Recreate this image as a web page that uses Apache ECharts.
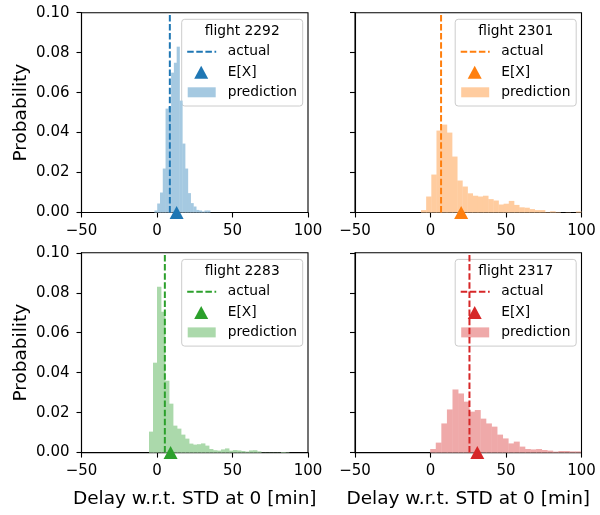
<!DOCTYPE html>
<html><head><meta charset="utf-8">
<script src="https://cdn.jsdelivr.net/npm/echarts@6/dist/echarts.min.js"></script>
<style>html,body{margin:0;padding:0;background:#fff}#c{width:600px;height:515px}</style>
</head><body><div id="c"></div>
<script>
// ---- data ----
const flights = ['flight 2292', 'flight 2301', 'flight 2283', 'flight 2317'];
const colors = ['#1f77b4', '#ff7f0e', '#2ca02c', '#d62728'];
const fills = ['#a5c9e1', '#ffcc9f', '#abd9ab', '#efa9a9'];
const actualDelay = [8.5, 7.0, 5.2, 25.8];
const expectedDelay = [13.0, 20.3, 9.0, 31.0];
const binStart = [-1.7, -6.3, -5.3, -0.2];
const binWidth = [1.84, 3.42, 2.65, 3.69];
const probBlue = [0.001, 0.0045, 0.010, 0.022, 0.052, 0.053, 0.070, 0.075, 0.083, 0.056, 0.0345, 0.022, 0.0097, 0.0047, 0.003, 0.0013, 0.001, 0.0005, 0.001, 0.001];
const probOrange = [0.0012, 0.008, 0.019, 0.041, 0.044, 0.040, 0.028, 0.016, 0.013, 0.0096, 0.0084, 0.008, 0.0084, 0.0067, 0.006, 0.004, 0.0044, 0.0058, 0.0038, 0.0026, 0.0024, 0.0017, 0.0012, 0.0012, 0.0002, 0.0006, 0.0002, 0, 0.0001, 0, 0.0005];
const probGreen = [0.0105, 0.045, 0.083, 0.0705, 0.036, 0.0245, 0.0135, 0.012, 0.009, 0.007, 0.0045, 0.004, 0.0042, 0.0046, 0.0035, 0.0018, 0.0012, 0.001, 0.0016, 0.0021, 0.001, 0.0013, 0.0011, 0.0008, 0.0005, 0.0011, 0.0012, 0.0006, 0.0001, 0.0001, 0.0001, 0.0001, 0.0001, 0.0003, 0.0002];
const probRed = [0.0018, 0.005, 0.0146, 0.0216, 0.0316, 0.0296, 0.0255, 0.0205, 0.0213, 0.017, 0.0146, 0.013, 0.009, 0.0071, 0.0046, 0.0055, 0.003, 0.0018, 0.0016, 0.0018, 0.0013, 0.001, 0.0005, 0.0008, 0.0008, 0.0006, 0.0006];
const probs = [probBlue, probOrange, probGreen, probRed];
const xTicks = [-50, 0, 50, 100];
const yTicks = [0, 0.02, 0.04, 0.06, 0.08, 0.10];
const xLabel = 'Delay w.r.t. STD at 0 [min]';
const yLabel = 'Probability';
const legendLabels = ['actual', 'E[X]', 'prediction'];

// ---- layout ----
const FONT = 'DejaVu Sans';
const gLeft = [81.5, 355, 81.5, 355];
const gTop = [12.7, 12.7, 252.8, 252.8];
const gW = 226.5, gH = 199.8;

const chart = echarts.init(document.getElementById('c'), null, {renderer: 'canvas'});
const grid = [], xAxis = [], yAxis = [], series = [], graphic = [];
for (let i = 0; i < 4; i++) {
  grid.push({left: gLeft[i], top: gTop[i], width: gW, height: gH, show: true, borderColor: '#000', borderWidth: 1.1, backgroundColor: 'transparent'});
  xAxis.push({
    type: 'value', gridIndex: i, min: xTicks[0], max: xTicks[xTicks.length - 1], interval: 50,
    axisLine: {onZero: false, lineStyle: {color: '#000', width: 1.1}},
    axisTick: {length: 5, lineStyle: {color: '#000', width: 1.1}},
    splitLine: {show: false},
    axisLabel: {color: '#000', fontFamily: FONT, fontSize: 15, margin: 11,
      formatter: v => v < 0 ? '\u2212' + Math.abs(v) : String(v)},
    name: i >= 2 ? xLabel : '', nameLocation: 'middle', nameGap: 37,
    nameTextStyle: {color: '#000', fontFamily: FONT, fontSize: 18.5}
  });
  yAxis.push({
    type: 'value', gridIndex: i, min: yTicks[0], max: yTicks[yTicks.length - 1], interval: 0.02,
    axisLine: {onZero: false, lineStyle: {color: '#000', width: 1.1}},
    axisTick: {length: 5, lineStyle: {color: '#000', width: 1.1}},
    splitLine: {show: false},
    axisLabel: {show: i % 2 === 0, color: '#000', fontFamily: FONT, fontSize: 15, margin: 12,
      formatter: v => v.toFixed(2)},
    name: i % 2 === 0 ? yLabel : '', nameLocation: 'middle', nameGap: 51,
    nameTextStyle: {color: '#000', fontFamily: FONT, fontSize: 18.5}
  });
  const bins = probs[i].map((p, k) => [binStart[i] + k * binWidth[i], binStart[i] + (k + 1) * binWidth[i], p]);
  const fill = fills[i];
  series.push({
    type: 'custom', xAxisIndex: i, yAxisIndex: i, data: bins, z: 1,
    encode: {x: [0, 1], y: 2},
    renderItem: (params, api) => {
      const p0 = api.coord([api.value(0), api.value(2)]);
      const p1 = api.coord([api.value(1), 0]);
      return {type: 'rect', shape: {x: p0[0], y: p0[1], width: p1[0] - p0[0] + 0.4, height: p1[1] - p0[1]}, style: {fill: fill}};
    }
  });
  series.push({
    type: 'line', xAxisIndex: i, yAxisIndex: i, z: 3, symbol: 'none', silent: true,
    data: [[actualDelay[i], yTicks[0]], [actualDelay[i], yTicks[yTicks.length - 1]]],
    lineStyle: {color: colors[i], width: 2, type: [6.5, 2.6]}
  });
  series.push({
    type: 'scatter', xAxisIndex: i, yAxisIndex: i, z: 5, clip: false, symbol: 'triangle', symbolSize: [14, 13],
    data: [[expectedDelay[i], 0]], itemStyle: {color: colors[i], opacity: 1}
  });
  // legend box
  const bx = gLeft[i] + 100.2, by = gTop[i] + 6.6;
  graphic.push({
    type: 'group', x: bx, y: by, z: 100,
    children: [
      {type: 'rect', shape: {x: 0, y: 0, width: 121, height: 86.7, r: 3}, style: {fill: 'rgba(255,255,255,0.8)', stroke: '#cccccc', lineWidth: 1}},
      {type: 'text', x: 60.5, y: 12.4, style: {text: flights[i], fill: '#000', font: '13.8px "DejaVu Sans"', align: 'center', verticalAlign: 'middle'}},
      {type: 'line', shape: {x1: 5.5, y1: 32.4, x2: 34.5, y2: 32.4}, style: {stroke: colors[i], lineWidth: 2, lineDash: [6.5, 2.6]}},
      {type: 'polygon', shape: {points: [[19.5, 46.5], [26.5, 59.5], [12.5, 59.5]]}, style: {fill: colors[i]}},
      {type: 'rect', shape: {x: 6, y: 68, width: 28, height: 10}, style: {fill: fills[i]}},
      {type: 'text', x: 46, y: 32.4, style: {text: legendLabels[0], fill: '#000', font: '13.8px "DejaVu Sans"', verticalAlign: 'middle'}},
      {type: 'text', x: 46, y: 53.4, style: {text: legendLabels[1], fill: '#000', font: '13.8px "DejaVu Sans"', verticalAlign: 'middle'}},
      {type: 'text', x: 46, y: 73.4, style: {text: legendLabels[2], fill: '#000', font: '13.8px "DejaVu Sans"', verticalAlign: 'middle'}}
    ]
  });
}
chart.setOption({animation: false, backgroundColor: '#fff', grid, xAxis, yAxis, series, graphic});
</script></body></html>
